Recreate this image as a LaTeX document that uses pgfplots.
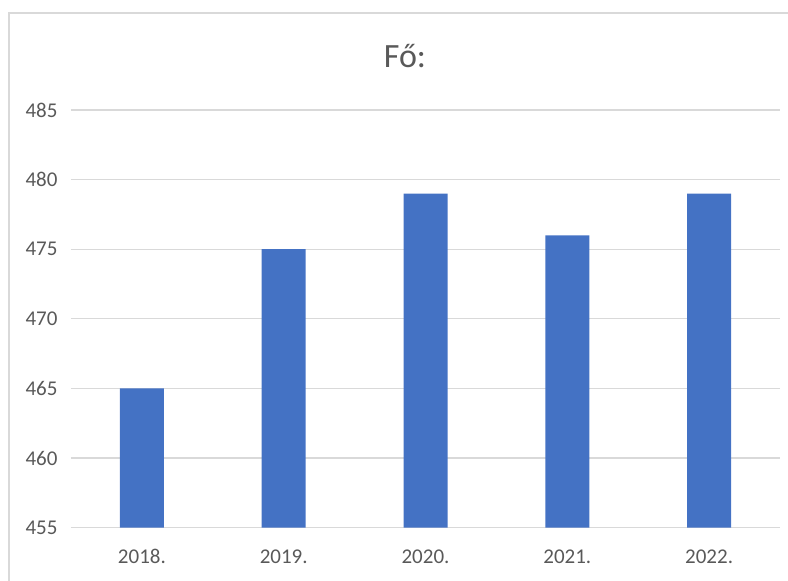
\documentclass[border=0pt]{standalone}
\usepackage{pgfplots}
\pgfplotsset{compat=1.18}
\usepackage{fontspec}
\setmainfont{Carlito}
\definecolor{barblue}{HTML}{4472C4}
\definecolor{gridgray}{HTML}{D9D9D9}
\definecolor{txtgray}{HTML}{595959}
\begin{document}
\begin{tikzpicture}[x=1pt,y=1pt]
\path[use as bounding box] (0pt,0pt) rectangle (788pt,581pt);
\clip (0pt,0pt) rectangle (788pt,581pt);
\draw[color=gridgray, line width=1.5pt] (9pt,-10pt) -- (9pt,568pt) -- (820pt,568pt);
\begin{axis}[
  at={(71pt,53.3pt)}, anchor=south west,
  scale only axis, width=709pt, height=417.7pt,
  xmin=-0.5, xmax=4.5, ymin=455, ymax=485,
  ytick={455,460,...,485},
  xtick={0,1,2,3,4},
  xticklabels={2018.,2019.,2020.,2021.,2022.},
  ymajorgrids, grid style={color=gridgray, line width=1.3pt},
  axis line style={draw=none}, tick style={draw=none},
  /pgf/number format/assume math mode=true,
  ticklabel style={font=\fontsize{21}{25}\selectfont, text=txtgray},
  yticklabel style={xshift=-10pt},
  xticklabel style={yshift=-14pt},
  ybar, bar width=44pt,
]
\addplot[fill=barblue, draw=none] coordinates {(0,465) (1,475) (2,479) (3,476) (4,479)};
\end{axis}
\node[text=txtgray, font=\fontsize{34}{40}\selectfont] at (405pt,525pt) {Fő:};
\end{tikzpicture}
\end{document}
